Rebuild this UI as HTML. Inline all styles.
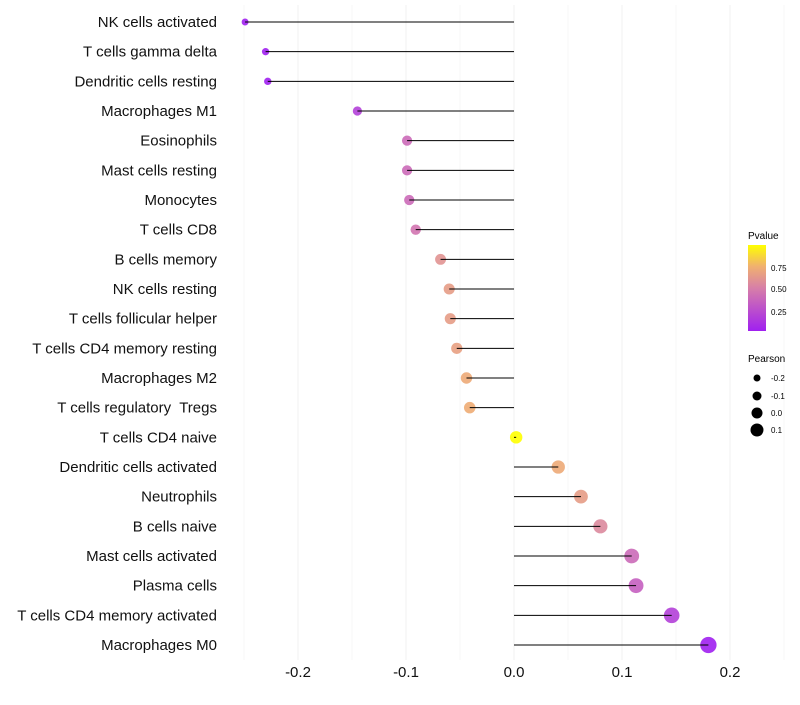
<!DOCTYPE html>
<html><head><meta charset="utf-8"><style>
body{margin:0;background:#fff;font-family:"Liberation Sans",sans-serif}
</style></head><body>
<svg id="chart" width="800" height="700" xmlns="http://www.w3.org/2000/svg" style="font-family:'Liberation Sans',sans-serif">
<g id="grid"></g>
<g id="marks"></g>
<g id="ylabels"></g>
<g id="xlabels"></g>
<g id="legend">
<defs><linearGradient id="pg" x1="0" y1="1" x2="0" y2="0">
<stop offset="0" stop-color="#A020F0"/><stop offset="0.5" stop-color="#D77FA8"/><stop offset="0.75" stop-color="#F0B070"/><stop offset="1" stop-color="#FFFF00"/></linearGradient></defs>
<text x="748" y="239" font-size="10">Pvalue</text>
<rect x="748" y="245" width="18" height="86" fill="url(#pg)"/>
<text x="771" y="271" font-size="8">0.75</text>
<text x="771" y="292" font-size="8">0.50</text>
<text x="771" y="315" font-size="8">0.25</text>
<text x="748" y="362" font-size="10">Pearson</text>
<circle cx="757" cy="378" r="3.5" fill="#000"/>
<circle cx="757" cy="396" r="4.5" fill="#000"/>
<circle cx="757" cy="413" r="5.5" fill="#000"/>
<circle cx="757" cy="430" r="6.5" fill="#000"/>
<text x="771" y="381" font-size="8">-0.2</text>
<text x="771" y="399" font-size="8">-0.1</text>
<text x="771" y="416" font-size="8">0.0</text>
<text x="771" y="433" font-size="8">0.1</text>
</g>
</svg>
<script>
const categories=["NK cells activated","T cells gamma delta","Dendritic cells resting","Macrophages M1","Eosinophils","Mast cells resting","Monocytes","T cells CD8","B cells memory","NK cells resting","T cells follicular helper","T cells CD4 memory resting","Macrophages M2","T cells regulatory  Tregs","T cells CD4 naive","Dendritic cells activated","Neutrophils","B cells naive","Mast cells activated","Plasma cells","T cells CD4 memory activated","Macrophages M0"];
const pearson=[-0.249,-0.230,-0.228,-0.145,-0.099,-0.099,-0.097,-0.091,-0.068,-0.060,-0.059,-0.053,-0.044,-0.041,0.002,0.041,0.062,0.080,0.109,0.113,0.146,0.180];
const pvalues=[0.02,0.05,0.05,0.2,0.4,0.4,0.4,0.45,0.6,0.65,0.65,0.67,0.72,0.73,0.99,0.72,0.65,0.55,0.4,0.35,0.2,0.05];
const xTicks=[-0.2,-0.1,0,0.1,0.2];
const xTickLabels=["-0.2","-0.1","0.0","0.1","0.2"];
const NS="http://www.w3.org/2000/svg";
const x=v=>514+v*1080;
const y=i=>22+i*(623/21);
const rad=v=>Math.max(2,6.2+11*v);
function col(p){
 const stops=[[0.05,[160,32,240]],[0.5,[215,127,168]],[0.75,[240,176,112]],[0.99,[255,255,0]]];
 p=Math.max(0.05,Math.min(0.99,p));
 for(let k=0;k<stops.length-1;k++){const a=stops[k],b=stops[k+1];
  if(p<=b[0]){const t=(p-a[0])/(b[0]-a[0]);return "rgb("+a[1].map((c,j)=>Math.round(c+(b[1][j]-c)*t)).join(",")+")";}}
 return "rgb(255,255,0)";
}
function mk(t,a,parent){const e=document.createElementNS(NS,t);for(const k in a)e.setAttribute(k,a[k]);parent.appendChild(e);return e;}
const grid=document.getElementById('grid');
for(let v=-0.25;v<=0.2501;v+=0.05){
 const g=mk('line',{x1:x(v),x2:x(v),y1:5,y2:660,stroke:'#f2f2f2','stroke-width':Math.abs(Math.round(v*20))%2===0?1:0.6},grid);
 
 
}
const marks=document.getElementById('marks'),yl=document.getElementById('ylabels'),xl=document.getElementById('xlabels');
categories.forEach((c,i)=>{
 const pt=mk('circle',{cx:x(pearson[i]),cy:y(i),r:rad(pearson[i]),fill:col(pvalues[i]),'fill-opacity':0.9},marks);
 
 
 const s=mk('line',{x1:x(0),x2:x(pearson[i]),y1:y(i),y2:y(i),stroke:'#000','stroke-width':1},marks);
 
 
 const t=mk('text',{x:217,y:y(i)+5,'text-anchor':'end','font-size':15,fill:'#111'},yl);
 t.style.whiteSpace='pre';
 t.textContent=c;
 
 
});
xTicks.forEach((v,i)=>{
 const t=mk('text',{x:x(v),y:677,'text-anchor':'middle','font-size':15,fill:'#111'},xl);
 t.textContent=xTickLabels[i];
 
 
});
</script>
</body></html>
